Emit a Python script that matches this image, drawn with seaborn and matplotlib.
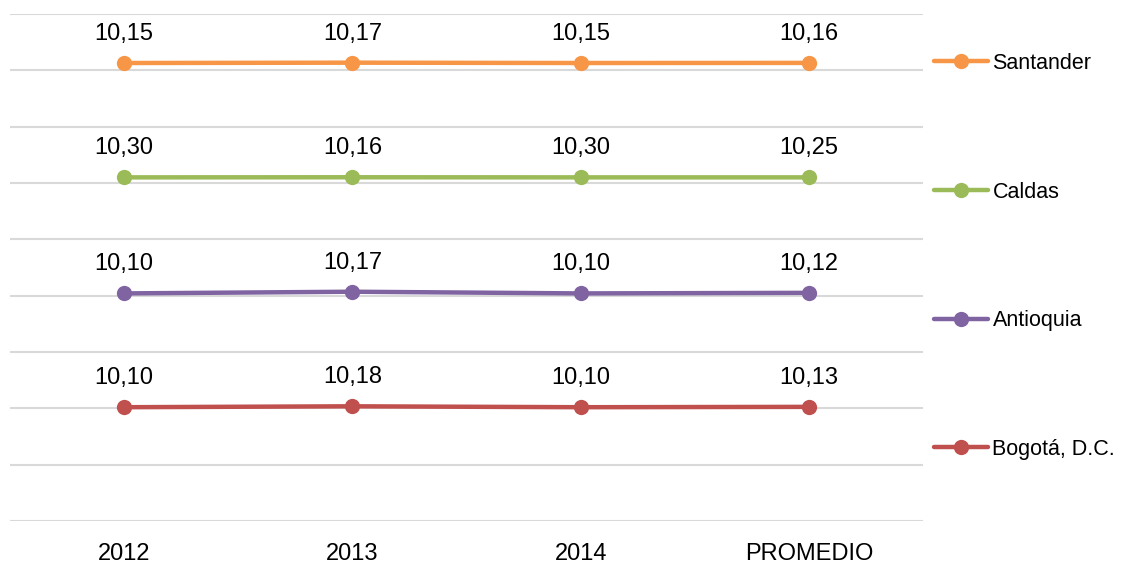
import numpy as np
import pandas as pd
import matplotlib.pyplot as plt
import seaborn as sns

categorias = ['2012', '2013', '2014', 'PROMEDIO']
bogota = [10.10, 10.18, 10.10, 10.13]
antioquia = [10.10, 10.17, 10.10, 10.12]
caldas = [10.30, 10.16, 10.30, 10.25]
santander = [10.15, 10.17, 10.15, 10.16]
series = ['Bogotá, D.C.', 'Antioquia', 'Caldas', 'Santander']
colores = ['#C0504D', '#8064A2', '#9BBB59', '#F79646']

# Stacked line chart (values accumulate like the Excel original)
valores = np.array([bogota, antioquia, caldas, santander])
acumulado = np.cumsum(valores, axis=0)

rows = []
for i, s in enumerate(series):
    for j, c in enumerate(categorias):
        rows.append({'Año': c, 'Serie': s, 'valor': valores[i, j], 'apilado': acumulado[i, j]})
df = pd.DataFrame(rows)

sns.set_theme(style="white")
plt.rcParams['font.family'] = ['Liberation Sans', 'DejaVu Sans']

fig = plt.figure(figsize=(11.21, 5.63), dpi=100)
ax = fig.add_axes([10 / 1121, 42 / 563, 913 / 1121, 507 / 563])

sns.lineplot(data=df, x='Año', y='apilado', hue='Serie', palette=colores,
             hue_order=series, sort=False, marker='o', markersize=11,
             markeredgewidth=0, linewidth=3.2, ax=ax)

for i, s in enumerate(series):
    for j in range(len(categorias)):
        ax.annotate(f"{valores[i, j]:.2f}".replace('.', ','),
                    (j, acumulado[i, j]), xytext=(0, 13), textcoords='offset points',
                    ha='center', va='bottom', fontsize=17, color='#000000')

ax.set_xlim(-0.5, 3.5)
ax.set_ylim(0, 45)
ax.set_yticks(np.arange(0, 46, 5))
ax.yaxis.grid(True, color='#D9D9D9', linewidth=1.5)
ax.set_axisbelow(True)
ax.set_yticklabels([])
ax.tick_params(axis='y', length=0)
ax.tick_params(axis='x', length=0, labelsize=17, pad=16, colors='#000000')
ax.set_xlabel('')
ax.set_ylabel('')
for sp in ax.spines.values():
    sp.set_visible(False)

handles, labels = ax.get_legend_handles_labels()
ax.legend(handles[::-1], labels[::-1], loc='upper left', bbox_to_anchor=(1.003, 0.94),
          frameon=False, fontsize=15.5, labelspacing=5.0, handlelength=2.5,
          handletextpad=0.2, borderaxespad=0, labelcolor='#000000')

fig.savefig('out.png', dpi=100)
